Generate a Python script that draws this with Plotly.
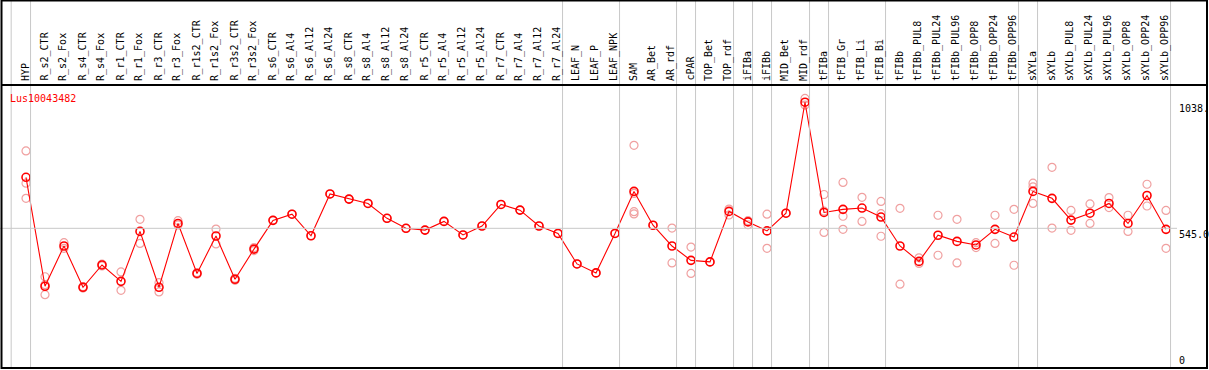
import plotly.graph_objects as go

gene = "Lus10043482"

categories = [
    "HYP", "R_s2_CTR", "R_s2_Fox", "R_s4_CTR", "R_s4_Fox", "R_r1_CTR", "R_r1_Fox",
    "R_r3_CTR", "R_r3_Fox", "R_r1s2_CTR", "R_r1s2_Fox", "R_r3s2_CTR", "R_r3s2_Fox",
    "R_s6_CTR", "R_s6_Al4", "R_s6_Al12", "R_s6_Al24", "R_s8_CTR", "R_s8_Al4",
    "R_s8_Al12", "R_s8_Al24", "R_r5_CTR", "R_r5_Al4", "R_r5_Al12", "R_r5_Al24",
    "R_r7_CTR", "R_r7_Al4", "R_r7_Al12", "R_r7_Al24", "LEAF_N", "LEAF_P", "LEAF_NPK",
    "SAM", "AR_Bet", "AR_rdf", "cPAR", "TOP_Bet", "TOP_rdf", "iFIBa", "iFIBb",
    "MID_Bet", "MID_rdf", "tFIBa", "tFIB_Gr", "tFIB_Li", "tFIB_Bi", "tFIBb",
    "tFIBb_PUL8", "tFIBb_PUL24", "tFIBb_PUL96", "tFIBb_OPP8", "tFIBb_OPP24",
    "tFIBb_OPP96", "sXYLa", "sXYLb", "sXYLb_PUL8", "sXYLb_PUL24", "sXYLb_PUL96",
    "sXYLb_OPP8", "sXYLb_OPP24", "sXYLb_OPP96",
]

means = [
    744, 319, 476, 315, 402, 338, 533, 315, 564, 369, 515, 346, 464,
    576, 600, 516, 679, 659, 642, 584, 545, 538, 572, 519, 554,
    638, 616, 554, 525, 406, 371, 525,
    689, 557, 476, 420, 414, 611, 570, 535, 604, 1037,
    607, 619, 624, 589, 476, 416, 518, 494, 480, 541, 511,
    689, 662, 577, 604, 642, 564, 673, 541,
]

replicates = [
    [847, 721, 662], [356, 286, 325], [489, 467], [318, 312], [405, 398],
    [375, 303], [580, 486], [333, 297], [575, 558], [372, 366], [542, 484],
    [350, 342], [470, 458],
    [576], [600], [516], [679], [659], [642], [584], [545], [538], [572], [519], [554],
    [638], [616], [554], [525], [406], [371], [525],
    [869, 681, 610, 601], [557], [546, 410], [472, 369], [414], [620, 597],
    [559, 575], [600, 467], [604], [1052, 1026],
    [677, 529, 612], [724, 592, 541], [666, 572], [650, 602, 514], [623, 327],
    [430, 408], [596, 440], [580, 410], [489, 470], [596, 486], [619, 401],
    [721, 707, 642], [783, 546], [615, 537], [640, 564], [665, 626],
    [596, 533], [717, 632], [615, 467],
]

separators_after = [
    "HYP", "R_r7_Al24", "LEAF_NPK", "AR_rdf", "cPAR", "TOP_rdf", "iFIBa", "iFIBb",
    "MID_rdf", "tFIBa", "tFIB_Bi", "tFIBb_OPP96", "sXYLa", "sXYLb_OPP96",
]

tick_values = [1038, 545, 0]
tick_labels = ["1038.", "545.0", "0"]

W, H = 1209, 370
X0, DX = 26, 19          # pixel of first category and spacing
PLOT_TOP, PLOT_BOT = 85, 368
YMAX = 1104.2

n = len(categories)
xs = list(range(n))

rep_x, rep_y = [], []
for i, vals in enumerate(replicates):
    for v in vals:
        rep_x.append(i)
        rep_y.append(v)

fig = go.Figure()
fig.add_trace(go.Scatter(
    x=rep_x, y=rep_y, mode="markers",
    marker=dict(symbol="circle-open", size=8, color="#f0a0a0", line=dict(width=1.2)),
    hoverinfo="skip", showlegend=False,
))
fig.add_trace(go.Scatter(
    x=xs, y=means, mode="lines+markers",
    line=dict(color="#ff0000", width=1.1),
    marker=dict(symbol="circle-open", size=8, color="#ff0000", line=dict(width=1.6)),
    showlegend=False,
))

shapes = []
# separators
sep_pos = [categories.index(name) + 0.24 for name in separators_after] + [-0.78]
for xp in sep_pos:
    shapes.append(dict(type="line", xref="x", yref="paper", x0=xp, x1=xp,
                       y0=(H - PLOT_BOT) / H, y1=1, line=dict(color="#c8c8c8", width=1)))
# gridline at middle tick
shapes.append(dict(type="line", xref="paper", yref="y", x0=0, x1=1177 / W,
                   y0=tick_values[1], y1=tick_values[1], line=dict(color="#c8c8c8", width=1)))
# frame
shapes.append(dict(type="rect", xref="paper", yref="paper", x0=1.5 / W, x1=1207 / W,
                   y0=(H - PLOT_BOT) / H, y1=1 - 0.5 / H, line=dict(color="black", width=2)))
shapes.append(dict(type="line", xref="paper", yref="paper", x0=1.5 / W, x1=1207 / W,
                   y0=(H - PLOT_TOP) / H, y1=(H - PLOT_TOP) / H, line=dict(color="black", width=2)))

annotations = []
for i, name in enumerate(categories):
    annotations.append(dict(x=i, y=(H - 83) / H, xref="x", yref="paper", text=name,
                            showarrow=False, textangle=-90, xanchor="center", yanchor="bottom",
                            xshift=-1, font=dict(family="DejaVu Sans Mono", size=10, color="black")))
annotations.append(dict(x=8 / W, y=(H - 91) / H, xref="paper", yref="paper", text=gene,
                        showarrow=False, xanchor="left", yanchor="top",
                        font=dict(family="DejaVu Sans Mono", size=10, color="#ff0000")))
for v, t in zip(tick_values, tick_labels):
    annotations.append(dict(x=1177 / W, y=v, xref="paper", yref="y", text=t, showarrow=False,
                            xanchor="left", yanchor="bottom" if v == 0 else "top",
                            yshift=0 if v == 0 else 1,
                            font=dict(family="DejaVu Sans Mono", size=10, color="black")))

fig.update_layout(
    width=W, height=H, margin=dict(l=0, r=0, t=0, b=0),
    paper_bgcolor="white", plot_bgcolor="white",
    xaxis=dict(range=[-X0 / DX, (W - X0) / DX], visible=False, fixedrange=True),
    yaxis=dict(range=[0, YMAX], domain=[(H - PLOT_BOT) / H, (H - PLOT_TOP) / H],
               visible=False, fixedrange=True),
    shapes=shapes, annotations=annotations,
)

fig.write_html(
    "out.html",
    config={"displayModeBar": False},
    post_script="document.body.style.margin='0';document.body.style.overflow='hidden';",
)
